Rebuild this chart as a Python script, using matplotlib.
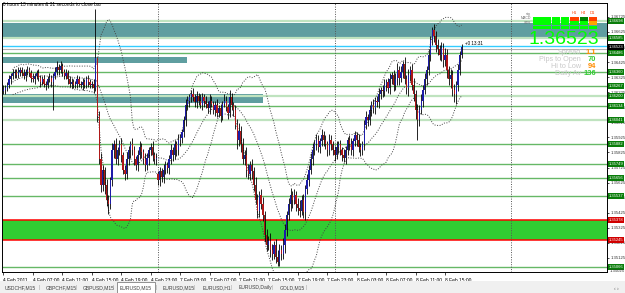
import numpy as np
import pandas as pd
import matplotlib
matplotlib.use("Agg")
import matplotlib.pyplot as plt
from matplotlib.patches import Rectangle

plt.rcParams["font.family"] = ["Liberation Sans", "DejaVu Sans"]

W, H = 625, 293

# EURUSD M15 closes, 4 Feb 2011 03:00 -> 8 Feb 2011 17:15
closes = [
    1.3624, 1.3625, 1.3627, 1.3631, 1.3633, 1.3635, 1.3636, 1.3634, 1.3636, 1.3637,
    1.3635, 1.3633, 1.3636, 1.3637, 1.3635, 1.3632, 1.3631, 1.3633, 1.3635, 1.3632,
    1.3629, 1.3631, 1.3628, 1.3627, 1.3631, 1.3632, 1.3629, 1.3633, 1.3636, 1.3639,
    1.3637, 1.3640, 1.3636, 1.3633, 1.3635, 1.3631, 1.3628, 1.3629, 1.3627, 1.3628,
    1.3631, 1.3628, 1.3627, 1.3629, 1.3627, 1.3631, 1.3629, 1.3627, 1.3628, 1.3625,
    1.3645, 1.3607, 1.3578, 1.3561, 1.3571, 1.3561, 1.3551, 1.3548, 1.3564, 1.3584,
    1.3588, 1.3578, 1.3584, 1.3588, 1.3581, 1.3571, 1.3568, 1.3578, 1.3584, 1.3588,
    1.3584, 1.3578, 1.3574, 1.3581, 1.3586, 1.3583, 1.3578, 1.3574, 1.3579, 1.3584,
    1.3586, 1.3581, 1.3578, 1.3579, 1.3564, 1.3570, 1.3566, 1.3571, 1.3574, 1.3572,
    1.3578, 1.3584, 1.3581, 1.3588, 1.3584, 1.3591, 1.3592, 1.3596, 1.3604, 1.3614,
    1.3617, 1.3619, 1.3621, 1.3619, 1.3616, 1.3620, 1.3617, 1.3614, 1.3619, 1.3617,
    1.3615, 1.3612, 1.3617, 1.3615, 1.3611, 1.3614, 1.3609, 1.3612, 1.3607, 1.3615,
    1.3617, 1.3613, 1.3609, 1.3619, 1.3614, 1.3611, 1.3601, 1.3591, 1.3597, 1.3588,
    1.3578, 1.3581, 1.3571, 1.3568, 1.3574, 1.3570, 1.3561, 1.3551, 1.3544, 1.3554,
    1.3548, 1.3541, 1.3528, 1.3521, 1.3524, 1.3518, 1.3515, 1.3521, 1.3513, 1.3510,
    1.3518, 1.3515, 1.3521, 1.3531, 1.3541, 1.3548, 1.3554, 1.3551, 1.3554, 1.3548,
    1.3546, 1.3544, 1.3551, 1.3543, 1.3558, 1.3564, 1.3571, 1.3578, 1.3584, 1.3588,
    1.3591, 1.3586, 1.3590, 1.3594, 1.3591, 1.3588, 1.3584, 1.3591, 1.3588, 1.3584,
    1.3581, 1.3586, 1.3588, 1.3584, 1.3581, 1.3579, 1.3584, 1.3591, 1.3588, 1.3584,
    1.3590, 1.3594, 1.3591, 1.3586, 1.3584, 1.3588, 1.3601, 1.3606, 1.3604, 1.3611,
    1.3614, 1.3612, 1.3617, 1.3616, 1.3621, 1.3624, 1.3623, 1.3627, 1.3629, 1.3625,
    1.3631, 1.3634, 1.3627, 1.3631, 1.3637, 1.3632, 1.3636, 1.3641, 1.3631, 1.3625,
    1.3634, 1.3637, 1.3627, 1.3621, 1.3611, 1.3604, 1.3611, 1.3617, 1.3624, 1.3631,
    1.3637, 1.3647, 1.3657, 1.3664, 1.3660, 1.3654, 1.3651, 1.3647, 1.3652, 1.3644,
    1.3647, 1.3637, 1.3631, 1.3634, 1.3624, 1.3621, 1.3627, 1.3637, 1.3647, 1.36523,
]
# wick lengths beyond the body, in pips
wick_up = [
    3, 2, 2, 3, 2, 3, 2, 2, 3, 2, 2, 3, 2, 3, 2, 2, 3, 2, 2, 3, 2, 2, 3, 2, 2,
    3, 2, 2, 3, 4, 2, 3, 2, 2, 3, 2, 2, 3, 2, 2, 3, 2, 2, 3, 2, 2, 3, 2, 2, 3,
    33, 1, 3, 4, 3, 2, 4, 3, 2, 5, 3, 4, 2, 3, 4, 2, 3, 5, 3, 2, 4, 3, 2, 3, 4,
    3, 2, 4, 3, 2, 3, 4, 2, 3, 2, 3, 2, 4, 3, 2, 3, 4, 2, 3, 2, 4, 3, 2, 3, 4,
    3, 2, 3, 4, 2, 3, 2, 4, 3, 2, 3, 2, 4, 3, 2, 3, 4, 2, 3, 2, 4, 3, 2, 5, 3,
    2, 3, 4, 5, 3, 4, 3, 5, 4, 3, 4, 3, 5, 4, 3, 4, 5, 3, 4, 3, 5, 4, 3, 4, 5,
    4, 3, 5, 4, 3, 4, 5, 3, 4, 3, 4, 5, 3, 4, 3, 4, 3, 4, 5, 3, 4, 3, 2, 4, 3,
    3, 2, 4, 3, 2, 3, 4, 2, 3, 2, 4, 3, 2, 3, 4, 2, 3, 2, 4, 3, 2, 3, 4, 2, 3,
    3, 4, 2, 3, 4, 2, 3, 4, 2, 3, 4, 2, 3, 4, 5, 3, 4, 2, 5, 3, 4, 3, 4, 5, 3,
    4, 3, 4, 3, 4, 3, 4, 3, 2, 4, 3, 4, 3, 4, 3, 5, 4, 3, 4, 3, 4, 3, 4, 3, 2,
]
wick_dn = [
    2, 3, 2, 2, 3, 2, 3, 2, 2, 3, 2, 2, 3, 2, 2, 3, 2, 3, 2, 2, 3, 2, 2, 3, 2,
    2, 3, 18, 2, 2, 3, 2, 3, 2, 2, 3, 2, 3, 2, 2, 3, 2, 2, 3, 2, 2, 3, 2, 2, 3,
    2, 4, 3, 5, 4, 6, 4, 6, 3, 4, 5, 3, 4, 3, 5, 3, 4, 3, 4, 5, 3, 4, 3, 4, 3,
    4, 3, 4, 3, 5, 3, 4, 3, 4, 3, 4, 3, 4, 3, 3, 4, 3, 4, 3, 4, 3, 4, 3, 3, 4,
    3, 4, 3, 2, 3, 4, 3, 2, 3, 4, 3, 3, 4, 2, 3, 4, 3, 3, 4, 3, 2, 3, 4, 3, 3,
    4, 3, 6, 4, 5, 3, 4, 5, 3, 4, 5, 4, 3, 5, 4, 3, 4, 5, 4, 3, 5, 4, 3, 4, 3,
    3, 4, 3, 5, 4, 3, 4, 5, 3, 4, 5, 4, 3, 4, 5, 3, 4, 3, 4, 3, 4, 3, 4, 3, 4,
    3, 4, 3, 4, 3, 4, 3, 4, 3, 4, 3, 4, 3, 4, 3, 4, 3, 4, 3, 4, 3, 4, 3, 4, 3,
    4, 3, 4, 3, 4, 3, 4, 3, 4, 3, 4, 3, 4, 3, 4, 5, 3, 4, 3, 4, 5, 4, 3, 4, 6,
    13, 4, 3, 4, 3, 4, 3, 4, 3, 4, 5, 4, 3, 4, 5, 4, 5, 4, 6, 4, 5, 6, 4, 3, 2,
]
friday_start = "2011-02-04 03:00"
monday_start = "2011-02-07 00:00"
friday_bars = 84
monday_open = 1.3568

green_levels = [1.36486, 1.36360, 1.36267, 1.36134, 1.35882, 1.35749, 1.35656, 1.35537, 1.35066]
pale_levels = [1.36698, 1.36585, 1.36200, 1.36041]
teal_zones = [(1.36592, 1.36685), (1.36419, 1.36459), (1.36154, 1.36214)]
teal_zone_end = [None, 100, 141]
buy_zone = (1.35245, 1.35378)
cyan_line = 1.36532
grey_line = 1.36510
bid = 1.36523

info_labels = ["Spread", "Pips to Open", "Hi to Low", "Daily Av"]
info_values = ["1.1", "70", "94", "136"]
info_colors = ["#FF8C00", "#32CD32", "#FF8C00", "#32CD32"]

tabs = ["USDCHF,M15", "GBPCHF,M15", "GBPUSD,M15", "EURUSD,M15",
        "EURUSD,M15", "EURUSD,H1", "EURUSD,Daily", "GOLD,M15"]
active_tab = 3

sig_heads = ["", "", "", "", "H1", "H4", "D1"]
sig_grid = [
    ["#00FF00", "#00FF00", "#00FF00", "#00FF00", "#FF4000", "#008000", "#FF4000"],
    ["#00FF00", "#00FF00", "#00FF00", "#00FF00", "#00FF00", "#00FF00", "#FFA500"],
    ["#00FF00", "#00FF00", "#00FF00", "#00FF00", "#00FF00", "#00FF00", "#00FF00"],
]

# ---- build bars
n = len(closes)
c = np.array(closes)
o = np.r_[closes[0] - 0.0001, c[:-1]]
o[friday_bars] = monday_open
hi = np.maximum(o, c) + np.array(wick_up) * 0.0001
lo = np.minimum(o, c) - np.array(wick_dn) * 0.0001
times = list(pd.date_range(friday_start, periods=friday_bars, freq="15min")) + \
    list(pd.date_range(monday_start, periods=340 - friday_bars, freq="15min"))
x = np.arange(n)

s = pd.Series(closes)
mid = s.rolling(20, min_periods=6).mean()
sd = s.rolling(20, min_periods=6).std(ddof=0)

fig = plt.figure(figsize=(W / 100, H / 100), dpi=100)
ax = fig.add_axes([2 / W, (H - 272) / H, 605 / W, 269 / H])
ax.set_xlim(-0.8, 328)
ax.set_ylim(1.35032, 1.36817)


def fx(px):
    return px / W


def fy(py):
    return 1 - py / H


# zones and levels
for (lo_z, hi_z), end in zip(teal_zones, teal_zone_end):
    right = ax.get_xlim()[1] if end is None else end
    ax.add_patch(Rectangle((-0.8, lo_z), right + 0.8, hi_z - lo_z, color="#5F9EA0", lw=0, zorder=1))
ax.axhspan(buy_zone[0], buy_zone[1], color="#32CD32", lw=0, zorder=1)
for b in buy_zone:
    ax.axhline(b, color="#FF0000", lw=1.1, zorder=1.5)
for lv in green_levels:
    ax.axhline(lv, color="#66B866", lw=1.0, zorder=1.2)
for lv in pale_levels:
    ax.axhline(lv, color="#BFE3BF", lw=1.6, zorder=1.2)
ax.axhline(cyan_line, color="#33CCFF", lw=1.0, zorder=1.2)
ax.axhline(grey_line, color="#B0B0B0", lw=0.8, zorder=1.2)

# day separators
for i, t in enumerate(times):
    if i > 0 and t.hour == 0 and t.minute == 0:
        ax.axvline(i, color="#555555", lw=0.7, ls=(0, (1, 1.5)), zorder=1.6)

# bollinger bands
for band in (mid + 2 * sd, mid, mid - 2 * sd):
    ax.plot(x, band, color="#444444", lw=0.7, ls=(0, (1, 1.6)), zorder=2)

# candles
ax.vlines(x, lo, hi, color="black", lw=0.6, zorder=3)
body_col = np.where(c >= o, "#1C1CA8", "#B01818")
hgt = np.where(np.abs(c - o) < 0.00004, 0.00004, c - o)
ax.bar(x, hgt, bottom=o, width=0.65, color=body_col, lw=0, zorder=4)

# axes styling
for sp in ax.spines.values():
    sp.set_color("black")
    sp.set_linewidth(0.7)
ax.yaxis.tick_right()
yt = np.arange(1.35025, 1.36826, 0.001)
ax.set_yticks(yt)
ax.set_yticklabels([f"{v:.5f}" for v in yt], fontsize=3.1, color="#333333")
ax.tick_params(axis="y", length=1.5, width=0.5, pad=0.8)
ax.set_ylim(1.35032, 1.36817)

tick_idx = [i for i in range(n) if times[i].hour % 4 == 3 and times[i].minute == 0]
tick_lab = [times[i].strftime("%-d %b %Y") if k == 0 else times[i].strftime("%-d %b %H:%M")
            for k, i in enumerate(tick_idx)]
ax.set_xticks(tick_idx)
ax.set_xticklabels(tick_lab, fontsize=3.5, ha="left")
ax.tick_params(axis="x", length=2.5, width=0.5, pad=1.5)
fig.text(fx(610), fy(271.5), "1.35025", fontsize=3.1, color="#333333", ha="left", va="center")


# price boxes on the axis
def price_box(p, fc):
    ax.text(1.003, p, f"{p:.5f}", transform=ax.get_yaxis_transform(), fontsize=3.0,
            color="white", va="center", ha="left", zorder=10, clip_on=False,
            bbox=dict(boxstyle="square,pad=0.2", fc=fc, ec="none"))


for lv in green_levels + pale_levels:
    price_box(lv, "#0A7D0A")
for b in buy_zone:
    price_box(b, "#D00000")
price_box(bid, "black")

# texts
fig.text(fx(3), fy(4.5), "0 hours 13 minutes & 31 seconds to close bar", fontsize=3.4,
         va="center", ha="left", color="black")
ax.text(n + 1, bid + 0.00028, "+0 13:31", fontsize=3.3, color="black", va="center", ha="left", zorder=6)

fig.text(fx(599), fy(39.5), f"{bid:.5f}", fontsize=14, color="#00FF00", ha="right", va="center")
for k, (lab, val, col) in enumerate(zip(info_labels, info_values, info_colors)):
    yy = fy(52 + k * 7.2)
    fig.text(fx(581), yy, lab, fontsize=5.2, color="#C8C8C8", ha="right", va="center")
    fig.text(fx(596), yy, val, fontsize=5.4, color=col, ha="right", va="center", weight="bold")

for r, row in enumerate(sig_grid):
    for k, col in enumerate(row):
        fig.patches.append(Rectangle((fx(533 + k * 9.3), fy(20.5 + r * 4.4)), 8.5 / W, 3.6 / H,
                                     transform=fig.transFigure, color=col, lw=0, zorder=8))
for k, hd in enumerate(sig_heads):
    if hd:
        fig.text(fx(537 + k * 9.3), fy(13.5), hd, fontsize=3.0, color="#FF4000", ha="center", va="center")
for r, lab in enumerate(["sig", "MACD", "STR"]):
    fig.text(fx(531), fy(14 + r * 4.4), lab, fontsize=2.6, color="#707070", ha="right", va="center")

# tab bar
fig.patches.append(Rectangle((0, 0), 1, fy(281), transform=fig.transFigure, color="#F0F0F0", lw=0))
tab_x = [3, 44, 81, 118, 161, 201, 237, 278]
tab_w = [36, 32, 32, 38, 33, 30, 35, 28]
for k, (tx, tw, lab) in enumerate(zip(tab_x, tab_w, tabs)):
    if k == active_tab:
        fig.patches.append(Rectangle((fx(tx - 1), 0), tw / W, fy(282), transform=fig.transFigure,
                                     fc="white", ec="#808080", lw=0.6))
    fig.text(fx(tx + 2), fy(288), lab, fontsize=3.6, color="#404040", ha="left", va="center")
    fig.text(fx(tx + tw), fy(288), "|", fontsize=3.6, color="#A0A0A0", ha="center", va="center")
fig.text(fx(616), fy(288), "‹ ›", fontsize=3.6, color="#606060", ha="center", va="center")

fig.savefig("out.png", dpi=100)
